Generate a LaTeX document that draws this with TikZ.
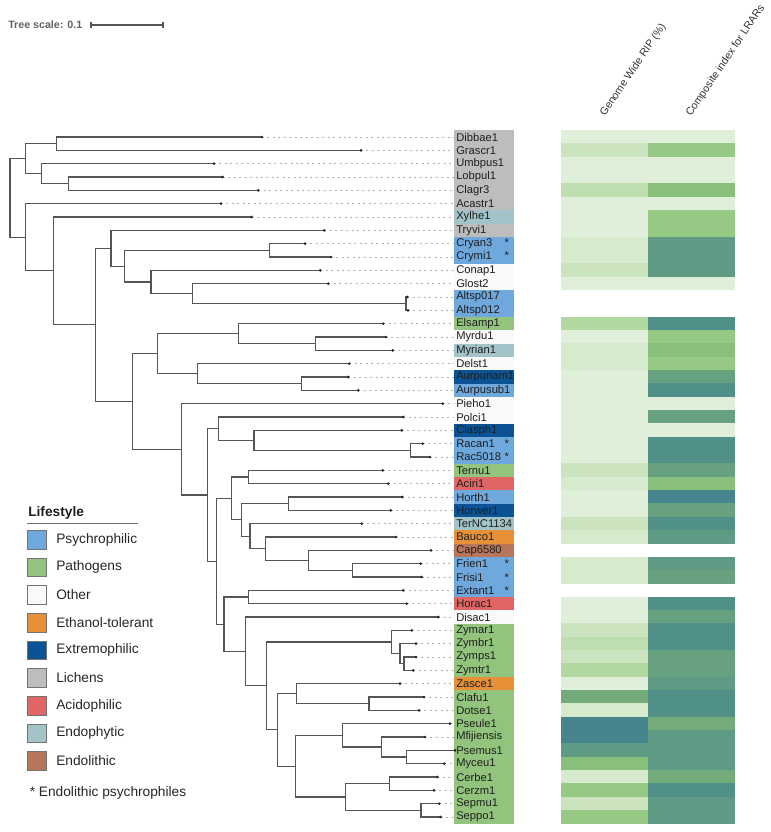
\documentclass[tikz,border=0pt]{standalone}
\usepackage{fontspec}
\setmainfont{Liberation Sans}
\usetikzlibrary{calc}
\definecolor{psy}{HTML}{6FA8DC}
\definecolor{pat}{HTML}{93C47D}
\definecolor{oth}{HTML}{F9F9F9}
\definecolor{eth}{HTML}{E69138}
\definecolor{ext}{HTML}{0B5394}
\definecolor{lic}{HTML}{BDBDBD}
\definecolor{aci}{HTML}{E06666}
\definecolor{endp}{HTML}{A2C4C9}
\definecolor{endl}{HTML}{B7765A}
\definecolor{ha}{HTML}{E0EFD9}
\definecolor{hb}{HTML}{D6EACD}
\definecolor{hc}{HTML}{CBE4BF}
\definecolor{hd}{HTML}{BFDEB0}
\definecolor{he}{HTML}{B2D8A1}
\definecolor{hf}{HTML}{96CA84}
\definecolor{hg}{HTML}{88C07B}
\definecolor{hh}{HTML}{74AB7A}
\definecolor{hi}{HTML}{67A17F}
\definecolor{hj}{HTML}{5E9A84}
\definecolor{hk}{HTML}{518F89}
\definecolor{hl}{HTML}{46858D}
\definecolor{branch}{HTML}{555555}
\def\st{\hfill*\hspace{2.5pt}}
\begin{document}
\begin{tikzpicture}[x=0.75pt,y=-0.75pt,
  br/.style={draw=branch, line width=0.8pt, line join=miter},
  dotline/.style={draw=black!30, line width=0.6pt, dash pattern=on 1.5pt off 2.6pt},
  lab/.style={anchor=west, inner xsep=1.5pt, inner ysep=0pt, minimum height=10pt,
    font=\fontsize{8.4}{9}\selectfont, text=black!88},
  legtext/.style={anchor=west, inner sep=0pt, font=\fontsize{10.3}{12}\selectfont, text=black!85},
  hdr/.style={anchor=base west, inner sep=0pt, font=\fontsize{8}{9}\selectfont, text=black!80}]
\useasboundingbox (0,0) rectangle (771,832);

% tree scale
\node[anchor=west, inner sep=0pt, font=\bfseries\fontsize{8}{9}\selectfont, text=black!62] (ts) at (8,25) {Tree scale: 0.1};
\coordinate (sb1) at (91,25);
\coordinate (sbm) at (127,25);
\coordinate (sb2) at (163,25);
\draw[branch, line width=0.8pt] (sb1) -- (sb2);
\draw[branch, line width=0.8pt] ($(sb1)+(0,-3)$) -- ($(sb1)+(0,3)$);
\draw[branch, line width=0.8pt] ($(sb2)+(0,-3)$) -- ($(sb2)+(0,3)$);
\draw[branch, line width=0.8pt] ($(sbm)+(0,-1)$) -- ($(sbm)+(0,1)$);

% headers
\node[hdr, rotate=56] (h1) at (605,117) {Genome Wide RIP (\%)};
\node[hdr, rotate=56] (h2) at (691,117) {Composite index for LRARs};

% heatmap
\foreach \r/\a/\b in {1/ha/ha,2/hc/hf,3/ha/ha,4/ha/ha,5/hd/hg,6/ha/ha,7/ha/hf,8/ha/hf,9/hb/hj,10/hb/hj,11/hc/hj,12/ha/ha,
  15/he/hk,16/ha/hf,17/hb/hg,18/hb/hf,19/ha/hi,20/ha/hk,21/ha/ha,22/ha/hi,23/ha/ha,24/ha/hk,25/ha/hk,
  26/hc/hi,27/hb/hg,28/ha/hl,29/ha/hi,30/hc/hk,31/hb/hj,33/hb/hj,34/hb/hi,36/ha/hk,37/ha/hi,
  38/hc/hk,39/hd/hk,40/hc/hi,41/he/hi,42/ha/hj,43/hh/hk,44/hb/hk,45/hl/hh,46/hl/hj,47/hj/hj,
  48/hg/hj,49/hb/hh,50/hf/hk,51/hc/hj,52/hf/hj} {
  \fill[\a] (561,{116.8+13.3333*\r}) rectangle (648.3,{130.4+13.3333*\r});
  \fill[\b] (648,{116.8+13.3333*\r}) rectangle (735,{130.4+13.3333*\r});
}

% tips
\foreach \i/\x in {1/262,2/361,3/214,4/222.7,5/258.3,6/221,7/251.7,8/324.3,9/305,10/331,11/320.3,12/328.3,13/407.3,14/408,
  15/383.3,16/386,17/392.7,18/349.3,19/348.3,20/358.3,21/442.7,22/403.3,23/401.7,24/422.7,25/430,26/382.7,27/388.3,
  28/402.3,29/390.7,30/361.7,31/396,32/431,33/420.7,34/421.7,35/403.3,36/406.7,37/438.3,38/411.7,39/416,40/416,
  41/413.3,42/400,43/424,44/419,45/450,46/425,47/455,48/444.3,49/437.3,50/434,51/439.3,52/440.7}
  \coordinate (t\i) at (\x,{123.667+13.3333*\i});

% internal nodes
\foreach \n/\x/\r in {root/10/5.57384, nA/25.7/2.625, nB/25.7/8.52268, n1/56.7/1.5, n2/41.7/3.75, n3/68.3/4.5,
  n4/53.3/11.04535, n5/95.7/15.0907, n6/111/9.34375, n7/124.3/10.6875, n8/269.3/9.5, n9/151/11.875,
  n10/192.3/12.75, n11/406/13.5, n13/132.7/20.83765, n14/157.7/17.25, n15/238.3/15.75, n16/315.7/16.5,
  n17/197.3/18.75, n18/301.7/19.5, n20/181.7/24.42529, n21/207.3/27.85059, n22/218.3/22.875, n23/254/23.75,
  n24/410.7/24.5, n30/216.7/32.82617, n31/231.7/28.109375, n32/248.3/26.5, n33/241.7/29.71875,
  n34/288.3/28.5, n35/250/30.9375, n36/265.7/31.875, n37/308.3/32.75, n38/352.3/33.5, n40/224/37.54297,
  n41/248.3/35.5, n42/245.7/39.5859375, n43/266.7/42.171875, n44/391.7/38.875, n45/400/39.75, n46/404/40.5,
  n47/277.3/45.46875, n48/296.7/42.75, n49/369/43.5, n50/295.7/48.1875, n51/342.3/45.875, n52/381.7/46.75,
  n53/406.7/47.5, n54/345.7/50.5, n55/389.3/49.5, n56/421/51.5}
  \coordinate (\n) at (\x,{123.667+13.3333*\r});

% labels
\foreach \i/\n/\c in {1/Dibbae1/lic, 2/Grascr1/lic, 3/Umbpus1/lic, 4/Lobpul1/lic, 5/Clagr3/lic, 6/Acastr1/lic,
  7/Xylhe1/endp, 8/Tryvi1/lic, 9/Cryan3\st/psy, 10/Crymi1\st/psy, 11/Conap1/oth, 12/Glost2/oth,
  13/Altsp017/psy, 14/Altsp012/psy, 15/Elsamp1/pat, 16/Myrdu1/oth, 17/Myrian1/endp, 18/Delst1/oth,
  19/Aurpunam1/ext, 20/Aurpusub1/psy, 21/Pieho1/oth, 22/Polci1/oth, 23/Clasph1/ext, 24/Racan1\st/psy,
  25/Rac5018\st/psy, 26/Ternu1/pat, 27/Aciri1/aci, 28/Horth1/psy, 29/Horwer1/ext, 30/TerNC1134/endp,
  31/Bauco1/eth, 32/Cap6580/endl, 33/Frien1\st/psy, 34/Frisi1\st/psy, 35/Extant1\st/psy, 36/Horac1/aci,
  37/Disac1/oth, 38/Zymar1/pat, 39/Zymbr1/pat, 40/Zymps1/pat, 41/Zymtr1/pat, 42/Zasce1/eth, 43/Clafu1/pat,
  44/Dotse1/pat, 45/Pseule1/pat, 46/Mfijiensis/pat, 47/Psemus1/pat, 48/Myceu1/pat, 49/Cerbe1/pat,
  50/Cerzm1/pat, 51/Sepmu1/pat, 52/Seppo1/pat}
  \node[lab, fill=\c] (l\i) at (454,{123.667+13.3333*\i}) {\makebox[42pt][l]{\n}};

% dotted leaders
\foreach \i in {1,...,52}
  \draw[dotline] (t\i) -- (l\i.west);

% branches
\foreach \p/\c in {root/nA, root/nB, nA/n1, nA/n2, n1/t1, n1/t2, n2/t3, n2/n3, n3/t4, n3/t5,
  nB/t6, nB/n4, n4/t7, n4/n5, n5/n6, n5/n13, n6/t8, n6/n7, n7/n8, n7/n9, n8/t9, n8/t10, n9/t11, n9/n10,
  n10/t12, n10/n11, n11/t13, n11/t14,
  n13/n14, n13/n20, n14/n15, n14/n17, n15/t15, n15/n16, n16/t16, n16/t17, n17/t18, n17/n18, n18/t19, n18/t20,
  n20/t21, n20/n21, n21/n22, n21/n30, n22/t22, n22/n23, n23/t23, n23/n24, n24/t24, n24/t25,
  n30/n31, n30/n40, n31/n32, n31/n33, n32/t26, n32/t27, n33/n34, n33/n35, n34/t28, n34/t29, n35/t30, n35/n36,
  n36/t31, n36/n37, n37/t32, n37/n38, n38/t33, n38/t34,
  n40/n41, n40/n42, n41/t35, n41/t36, n42/t37, n42/n43, n43/n44, n43/n47, n44/t38, n44/n45, n45/t39, n45/n46,
  n46/t40, n46/t41, n47/n48, n47/n50, n48/t42, n48/n49, n49/t43, n49/t44, n50/n51, n50/n54, n51/t45, n51/n52,
  n52/t46, n52/n53, n53/t47, n53/t48, n54/n55, n54/n56, n55/t49, n55/t50, n56/t51, n56/t52}
  \draw[br] (\p) |- (\c);

% tip dots
\foreach \i in {1,...,52}
  \fill[black!85] (t\i) circle (1.1pt);

% legend
\node[anchor=west, inner sep=0pt, font=\bfseries\fontsize{10.3}{12}\selectfont, text=black!88] (lgt) at (28,512.5) {Lifestyle};
\coordinate (ul1) at (27,523.5);
\coordinate (ul2) at (138,523.5);
\draw[black!55, line width=1.1pt] (ul1) -- (ul2);
\foreach \k/\c/\t in {0/psy/Psychrophilic, 1/pat/Pathogens, 2/oth/Other, 3/eth/Ethanol-tolerant,
  4/ext/Extremophilic, 5/lic/Lichens, 6/aci/Acidophilic, 7/endp/Endophytic, 8/endl/Endolithic} {
  \node[draw=black!55, fill=\c, minimum size=14pt, inner sep=0pt, line width=0.7pt] (sw\k) at (37,{539.7+27.66*\k}) {};
  \node[legtext] (lt\k) at (56,{539.7+27.66*\k}) {\t};
}
\node[legtext] (fn) at (29.5,793) {* Endolithic psychrophiles};
\end{tikzpicture}
\end{document}
